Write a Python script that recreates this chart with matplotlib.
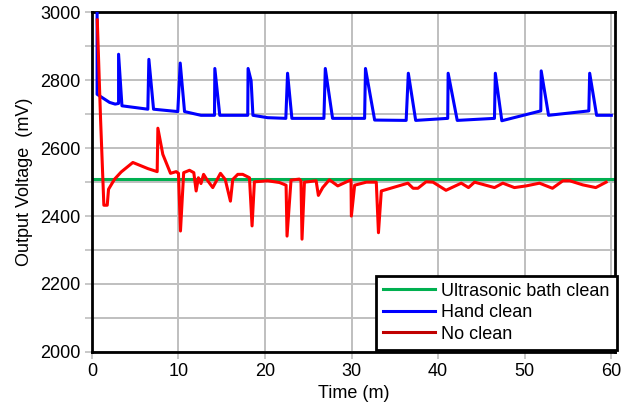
import matplotlib
matplotlib.use("Agg")
import matplotlib.pyplot as plt
from matplotlib.lines import Line2D

plt.rcParams['font.family'] = ['Liberation Sans', 'DejaVu Sans']

# Ultrasonic bath clean: flat reference level
ultra_level = 2510

# Hand clean (time in minutes, output in mV)
hand_t = [0.6, 0.6, 2.04, 2.69, 3.08, 3.08, 3.47, 6.46, 6.58, 7.12, 9.92, 10.2, 10.7,
          12.6, 14.16, 14.2, 14.77, 18.0, 18.04, 18.39, 18.6, 20.3, 22.4, 22.6, 23.1,
          26.8, 26.96, 27.8, 31.5, 31.6, 32.66, 36.3, 36.55, 37.4, 41.1, 41.15, 42.2,
          46.5, 46.6, 47.35, 51.85, 51.9, 52.75, 57.4, 57.5, 58.3, 60.0]
hand_v = [3010, 2759, 2735, 2730, 2732, 2877, 2725, 2715, 2862, 2715, 2708, 2851, 2708,
          2697, 2697, 2835, 2697, 2697, 2835, 2799, 2697, 2690, 2688, 2821, 2688,
          2688, 2835, 2688, 2688, 2835, 2683, 2682, 2821, 2682, 2688, 2821, 2682,
          2688, 2821, 2681, 2710, 2828, 2697, 2710, 2821, 2697, 2697]

# No clean
none_t = [0.62, 1.0, 1.38, 1.77, 1.92, 2.62, 3.38, 4.73, 6.46, 7.54, 7.62, 8.19, 9.08,
          9.73, 10.0, 10.23, 10.6, 11.27, 11.77, 12.04, 12.3, 12.6, 12.9, 13.27, 13.96,
          14.85, 15.4, 16.0, 16.27, 16.85, 17.42, 18.2, 18.5, 18.77, 20.3, 21.66, 22.43,
          22.54, 23.0, 23.95, 24.15, 24.27, 24.55, 25.9, 26.16, 26.66, 27.43, 28.4, 29.93,
          29.97, 30.35, 31.7, 32.85, 33.1, 33.43, 36.5, 37.1, 37.66, 38.6, 39.4, 40.9,
          42.66, 43.5, 44.2, 46.5, 47.47, 48.8, 50.17, 51.7, 53.2, 54.4, 55.2, 56.7,
          58.2, 59.4]
none_v = [2978, 2686, 2432, 2432, 2479, 2509, 2530, 2558, 2540, 2531, 2659, 2582, 2526,
          2531, 2526, 2356, 2528, 2535, 2528, 2474, 2513, 2496, 2523, 2508, 2484,
          2526, 2508, 2444, 2508, 2523, 2523, 2513, 2371, 2501, 2504, 2499, 2491,
          2341, 2506, 2509, 2504, 2332, 2500, 2504, 2461, 2484, 2507, 2489, 2507,
          2400, 2491, 2500, 2500, 2351, 2474, 2497, 2482, 2482, 2501, 2500, 2476,
          2497, 2484, 2500, 2484, 2497, 2484, 2489, 2497, 2482, 2504, 2504, 2492,
          2484, 2500]

x_ticks = [0, 10, 20, 30, 40, 50, 60]
y_ticks = [2000, 2200, 2400, 2600, 2800, 3000]
y_minor = [2100, 2300, 2500, 2700, 2900]

labels = ["Ultrasonic bath clean", "Hand clean", "No clean"]
c_green, c_blue, c_red = "#00B050", "#0000FF", "#FF0000"

fig = plt.figure(figsize=(6.21, 4.03), dpi=100)
ax = fig.add_axes([0.148, 0.127, 0.842, 0.842])

ax.set_xlim(0, 60.4)
ax.set_ylim(2000, 3000)
ax.set_xticks(x_ticks)
ax.set_yticks(y_ticks)
ax.set_yticks(y_minor, minor=True)
ax.grid(True, which='both', color='#BFBFBF', linewidth=1.4, zorder=0)
ax.set_axisbelow(True)

ax.axhline(ultra_level, color=c_green, linewidth=2.2, zorder=2)
ax.plot(hand_t, hand_v, color=c_blue, linewidth=2.2, zorder=3, clip_on=True)
ax.plot(none_t, none_v, color=c_red, linewidth=2.2, zorder=4)

for s in ax.spines.values():
    s.set_linewidth(2.0)
    s.set_color('black')

ax.tick_params(axis='both', which='major', labelsize=13, length=5, width=1.2,
               color='#BFBFBF', direction='out', pad=3)
ax.tick_params(axis='y', which='minor', length=5, width=1.2, color='#BFBFBF')

ax.set_xlabel("Time (m)", fontsize=13, labelpad=4)
ax.set_ylabel("Output Voltage  (mV)", fontsize=13, labelpad=5)

handles = [Line2D([], [], color=c_green, linewidth=2.2),
           Line2D([], [], color=c_blue, linewidth=2.2),
           Line2D([], [], color="#C00000", linewidth=2.2)]
leg = fig.legend(handles, labels, loc='lower right',
                 bbox_to_anchor=(617 / 621, 1 - 350 / 403),
                 bbox_transform=fig.transFigure, fontsize=13, frameon=True,
                 fancybox=False, handlelength=2.9, handletextpad=0.35,
                 labelspacing=0.25, borderpad=0.4, borderaxespad=0.0)
leg.get_frame().set_edgecolor('black')
leg.get_frame().set_linewidth(2.0)
leg.get_frame().set_alpha(1)

fig.savefig("out.png", dpi=100)
